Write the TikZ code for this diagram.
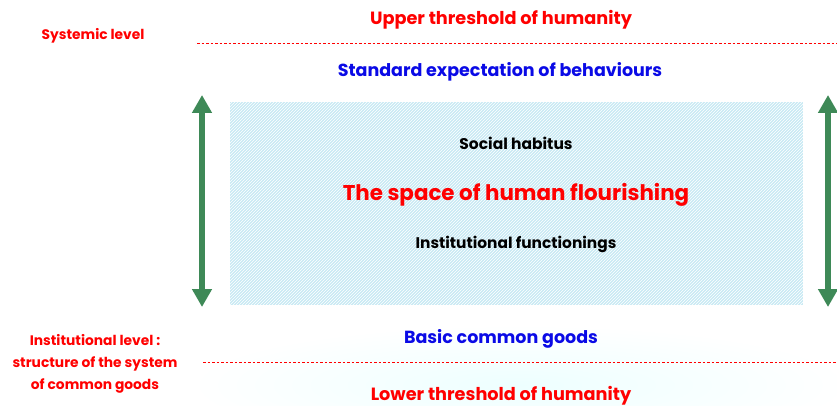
\documentclass[tikz,border=0pt]{standalone}
\usepackage{fontspec}
\setmainfont{Poppins}
\usetikzlibrary{arrows.meta,patterns}
\definecolor{tred}{RGB}{255,0,0}
\definecolor{tblue}{RGB}{10,10,230}
\definecolor{tgreen}{RGB}{62,137,87}
\definecolor{hatchbg}{RGB}{200,234,244}
\definecolor{nearwhite}{RGB}{253,254,255}
\tikzset{
  lbl/.style={font=\bfseries, inner sep=0pt, anchor=center},
  redlbl/.style={lbl, text=tred},
  bluelbl/.style={lbl, text=tblue},
  blacklbl/.style={lbl, text=black},
  sidelbl/.style={lbl, text=tred, font=\bfseries\fontsize{13.8}{22}\selectfont, align=center},
  thresh/.style={draw=tred, dash pattern=on 2.5pt off 2pt, line width=0.8pt},
  dblarrow/.style={tgreen, line width=5.5pt, {Triangle[width=19pt,length=18pt]}-{Triangle[width=19pt,length=18pt]}}
}
\begin{document}
\begin{tikzpicture}[x=1pt,y=-1pt]
\useasboundingbox (0,0) rectangle (837,406);
% faint glow at bottom
\begin{scope}
\shade[inner color=cyan!7, outer color=white] (520,385) ellipse (330 and 60);
\end{scope}
\fill[white] (0,0) rectangle (837,318);
\fill[nearwhite] (195,40) rectangle (837,47);
% threshold lines
\coordinate (u1) at (197,43.5); \coordinate (u2) at (837,43.5);
\coordinate (l1) at (203,362.5); \coordinate (l2) at (837,362.5);
\draw[thresh] (u1) -- (u2);
\draw[thresh] (l1) -- (l2);
% hatched box
\begin{scope}
\fill[hatchbg] (230,102) rectangle (803,305);
\fill[pattern=north east lines, pattern color=white] (230,102) rectangle (803,305);
\end{scope}
\node[draw=none, minimum width=573pt, minimum height=203pt, inner sep=0pt] (space) at (516.5,203.5) {};
% texts
\node[redlbl, font=\bfseries\fontsize{17.7}{20}\selectfont] (upper) at (501,20) {Upper threshold of humanity};
\node[bluelbl, font=\bfseries\fontsize{17.5}{20}\selectfont] (std) at (500,72) {Standard expectation of behaviours};
\node[blacklbl, font=\bfseries\fontsize{15.5}{18}\selectfont] (habitus) at (516,143) {Social habitus};
\node[redlbl, font=\bfseries\fontsize{21.4}{24}\selectfont] (flour) at (516,195) {The space of human flourishing};
\node[blacklbl, font=\bfseries\fontsize{15.4}{18}\selectfont] (inst) at (516,244) {Institutional functionings};
\node[bluelbl, font=\bfseries\fontsize{17.5}{20}\selectfont] (basic) at (501,339) {Basic common goods};
\node[redlbl, font=\bfseries\fontsize{17.7}{20}\selectfont] (lower) at (501,396) {Lower threshold of humanity};
\node[sidelbl] (sys) at (93,35.5) {Systemic level};
\node[sidelbl] (instlvl) at (95,364) {Institutional level :\\structure of the system\\of common goods};
% arrows
\coordinate (la) at (202,95); \coordinate (lb) at (202,307);
\coordinate (ra) at (828,95); \coordinate (rb) at (828,307);
\draw[dblarrow] (la) -- (lb);
\draw[dblarrow] (ra) -- (rb);
\end{tikzpicture}
\end{document}
